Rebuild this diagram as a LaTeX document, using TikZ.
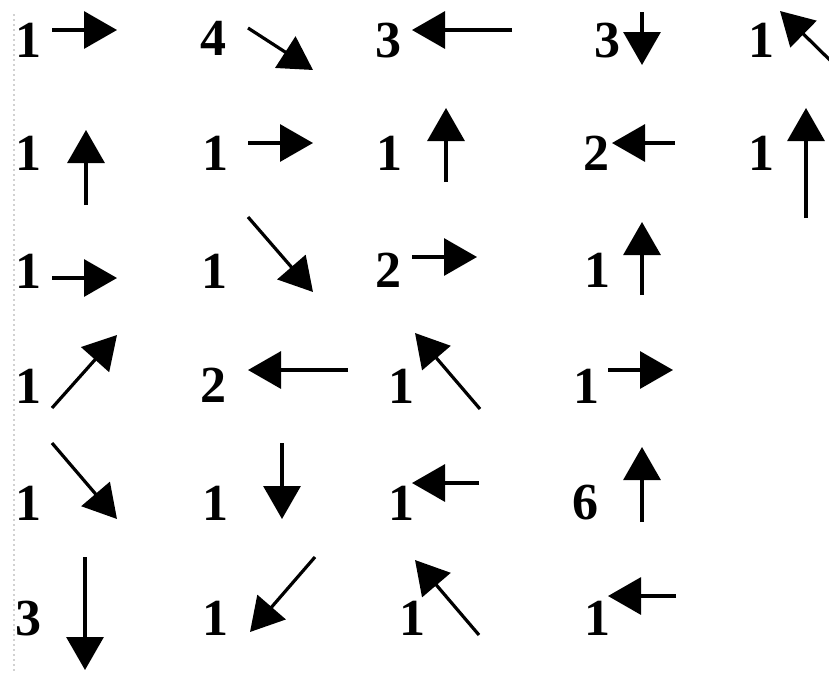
\documentclass[tikz,border=0pt]{standalone}
\usepackage{fontspec}
\setmainfont{Liberation Serif}
\usetikzlibrary{arrows.meta}
\begin{document}
\begin{tikzpicture}[x=1pt,y=-1pt,
  num/.style={anchor=base,inner sep=0pt,font=\fontsize{52}{52}\selectfont\bfseries},
  vec/.style={line width=3.2pt,-{Triangle[length=33pt,width=37pt]}},
  ticks/.style={gray!35,line width=1.2pt,dash pattern=on 1.5pt off 3.5pt}]
\useasboundingbox (0,0) rectangle (829,672);
\draw[ticks] (14,14) -- (14,672);
% row 1
\node[num] (n11) at (28,57) {1};
\node[num] (n12) at (213,55) {4};
\node[num] (n13) at (388,57) {3};
\node[num] (n14) at (607,57) {3};
\node[num] (n15) at (761,57) {1};
\coordinate (a11s) at (52,30);   \coordinate (a11e) at (117,30);
\coordinate (a12s) at (248,28);  \coordinate (a12e) at (313,70);
\coordinate (a13s) at (512,30);  \coordinate (a13e) at (412,30);
\coordinate (a14s) at (642,12);  \coordinate (a14e) at (642,65);
\coordinate (a15s) at (840,70);  \coordinate (a15e) at (780,11);
% row 2
\node[num] (n21) at (28,170) {1};
\node[num] (n22) at (215,170) {1};
\node[num] (n23) at (389,170) {1};
\node[num] (n24) at (596,170) {2};
\node[num] (n25) at (761,170) {1};
\coordinate (a21s) at (86,205);  \coordinate (a21e) at (86,130);
\coordinate (a22s) at (248,143); \coordinate (a22e) at (313,143);
\coordinate (a23s) at (446,182); \coordinate (a23e) at (446,108);
\coordinate (a24s) at (675,143); \coordinate (a24e) at (612,143);
\coordinate (a25s) at (806,218); \coordinate (a25e) at (806,108);
% row 3
\node[num] (n31) at (28,288) {1};
\node[num] (n32) at (214,288) {1};
\node[num] (n33) at (388,287) {2};
\node[num] (n34) at (597,287) {1};
\coordinate (a31s) at (52,278);  \coordinate (a31e) at (117,278);
\coordinate (a32s) at (248,217); \coordinate (a32e) at (313,292);
\coordinate (a33s) at (412,257); \coordinate (a33e) at (477,257);
\coordinate (a34s) at (642,295); \coordinate (a34e) at (642,222);
% row 4
\node[num] (n41) at (28,403) {1};
\node[num] (n42) at (213,402) {2};
\node[num] (n43) at (401,403) {1};
\node[num] (n44) at (586,403) {1};
\coordinate (a41s) at (52,408);  \coordinate (a41e) at (117,335);
\coordinate (a42s) at (348,370); \coordinate (a42e) at (248,370);
\coordinate (a43s) at (480,409); \coordinate (a43e) at (415,333);
\coordinate (a44s) at (608,370); \coordinate (a44e) at (673,370);
% row 5
\node[num] (n51) at (28,520) {1};
\node[num] (n52) at (215,520) {1};
\node[num] (n53) at (401,520) {1};
\node[num] (n54) at (585,519) {6};
\coordinate (a51s) at (52,443);  \coordinate (a51e) at (117,519);
\coordinate (a52s) at (282,443); \coordinate (a52e) at (282,519);
\coordinate (a53s) at (479,483); \coordinate (a53e) at (412,483);
\coordinate (a54s) at (642,522); \coordinate (a54e) at (642,447);
% row 6
\node[num] (n61) at (28,635) {3};
\node[num] (n62) at (215,635) {1};
\node[num] (n63) at (412,635) {1};
\node[num] (n64) at (597,635) {1};
\coordinate (a61s) at (85,557);  \coordinate (a61e) at (85,670);
\coordinate (a62s) at (315,557); \coordinate (a62e) at (250,632);
\coordinate (a63s) at (479,635); \coordinate (a63e) at (415,560);
\coordinate (a64s) at (676,596); \coordinate (a64e) at (608,596);
\begin{scope}
\clip (0,0) rectangle (829,672);
\foreach \r/\c in {1/1,1/2,1/3,1/4,1/5,2/1,2/2,2/3,2/4,2/5,3/1,3/2,3/3,3/4,4/1,4/2,4/3,4/4,5/1,5/2,5/3,5/4,6/1,6/2,6/3,6/4}
  \draw[vec] (a\r\c s) -- (a\r\c e);
\end{scope}
\end{tikzpicture}
\end{document}
